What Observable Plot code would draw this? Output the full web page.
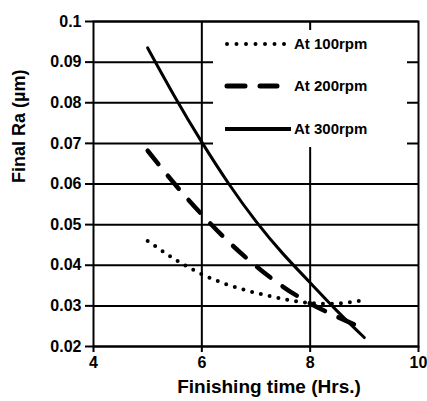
<!DOCTYPE html>
<html>
<head>
<meta charset="utf-8">
<script src="https://cdn.jsdelivr.net/npm/d3@7"></script>
<script src="https://cdn.jsdelivr.net/npm/@observablehq/plot@0.6"></script>
<style>
  html, body { margin: 0; padding: 0; background: #fff; }
  #wrap { position: relative; width: 427px; height: 401px; overflow: hidden; }
  #legend { position: absolute; left: 0; top: 0; }
</style>
</head>
<body>
<div id="wrap"></div>
<script>
// ---- data ----
const hours = [5, 5.5, 6, 6.5, 7, 7.5, 8, 8.5, 9];
const ra100 = [0.046, 0.0415, 0.0378, 0.0351, 0.0332, 0.0317, 0.0307, 0.0306, 0.0314];
const ra200 = [0.0682, 0.0600, 0.0525, 0.0457, 0.0398, 0.0347, 0.0306, 0.0273, 0.0243];
const ra300 = [0.0935, 0.0815, 0.0703, 0.0600, 0.0508, 0.0428, 0.0357, 0.0287, 0.0222];
const seriesNames = ["At 100rpm", "At 200rpm", "At 300rpm"];
const xTicks = [4, 6, 8, 10];
const xTickLabels = ["4", "6", "8", "10"];
const xGrid = [6, 8];
const yTicks = [0.02, 0.03, 0.04, 0.05, 0.06, 0.07, 0.08, 0.09, 0.1];
const yTickLabels = ["0.02", "0.03", "0.04", "0.05", "0.06", "0.07", "0.08", "0.09", "0.1"];
const xLabel = "Finishing time (Hrs.)";
const yLabel = "Final Ra (µm)";

const rows = (vals, s) => hours.map((h, i) => ({ h, v: vals[i], s }));
const d100 = rows(ra100, seriesNames[0]);
const d200 = rows(ra200, seriesNames[1]);
const d300 = rows(ra300, seriesNames[2]);

const font = "'Liberation Sans', Arial, sans-serif";

const chart = Plot.plot({
  width: 427,
  height: 401,
  marginLeft: 93,
  marginRight: 9,
  marginTop: 21,
  marginBottom: 55,
  style: { fontFamily: font, fontSize: "16px", fontWeight: "bold", color: "#000", background: "#fff" },
  x: { domain: [4, 10] },
  y: { domain: [0.02, 0.1] },
  marks: [
    Plot.ruleY(yTicks, { stroke: "#000", strokeWidth: 2 }),
    Plot.ruleX(xGrid, { stroke: "#000", strokeWidth: 2 }),
    Plot.frame({ stroke: "#000", strokeWidth: 2 }),
    Plot.axisY({ ticks: yTicks, tickFormat: (d, i) => yTickLabels[i], tickSize: 8, tickPadding: 4, strokeWidth: 2, label: null, fontSize: 16 }),
    Plot.axisX({ ticks: xTicks, tickFormat: (d, i) => xTickLabels[i], tickSize: 6, tickPadding: 4, strokeWidth: 2, label: null, fontSize: 16 }),
    Plot.line(d100, { x: "h", y: "v", curve: "natural", stroke: "#000", strokeWidth: 4, strokeDasharray: "0 9", strokeLinecap: "round" }),
    Plot.line(d200, { x: "h", y: "v", curve: "natural", stroke: "#000", strokeWidth: 4.5, strokeDasharray: "17 15", strokeLinecap: "round" }),
    Plot.line(d300, { x: "h", y: "v", curve: "natural", stroke: "#000", strokeWidth: 3 }),
    Plot.text([xLabel], { frameAnchor: "bottom", dy: 46, dx: 13, fontSize: 19, fontWeight: "bold", fill: "#000" }),
    Plot.text([yLabel], { frameAnchor: "left", dx: -74, dy: -1, rotate: -90, fontSize: 18, fontWeight: "bold", fill: "#000" })
  ]
});
document.getElementById("wrap").appendChild(chart);

// ---- legend overlay (layout only) ----
const leg = d3.select("#wrap").append("svg")
  .attr("id", "legend")
  .attr("width", 427).attr("height", 401)
  .style("pointer-events", "none");
leg.append("rect").attr("x", 213).attr("y", 30).attr("width", 194).attr("height", 117).attr("fill", "#fff");
const styles = [
  { w: 4, dash: "0 9.5", cap: "round", x1: 227, x2: 286 },
  { w: 5, dash: "18 15", cap: "round", x1: 227, x2: 277 },
  { w: 4, dash: null, cap: "butt", x1: 225, x2: 291 }
];
const rowsY = [44, 86, 129];
seriesNames.forEach((name, i) => {
  const st = styles[i];
  const ln = leg.append("line")
    .attr("x1", st.x1).attr("x2", st.x2).attr("y1", rowsY[i]).attr("y2", rowsY[i])
    .attr("stroke", "#000").attr("stroke-width", st.w).attr("stroke-linecap", st.cap);
  if (st.dash) ln.attr("stroke-dasharray", st.dash);
  leg.append("text").attr("x", 294).attr("y", rowsY[i]).attr("dy", "0.36em")
    .attr("font-family", font).attr("font-size", 15).attr("font-weight", "bold").attr("fill", "#000")
    .text(name);
});
</script>
</body>
</html>
